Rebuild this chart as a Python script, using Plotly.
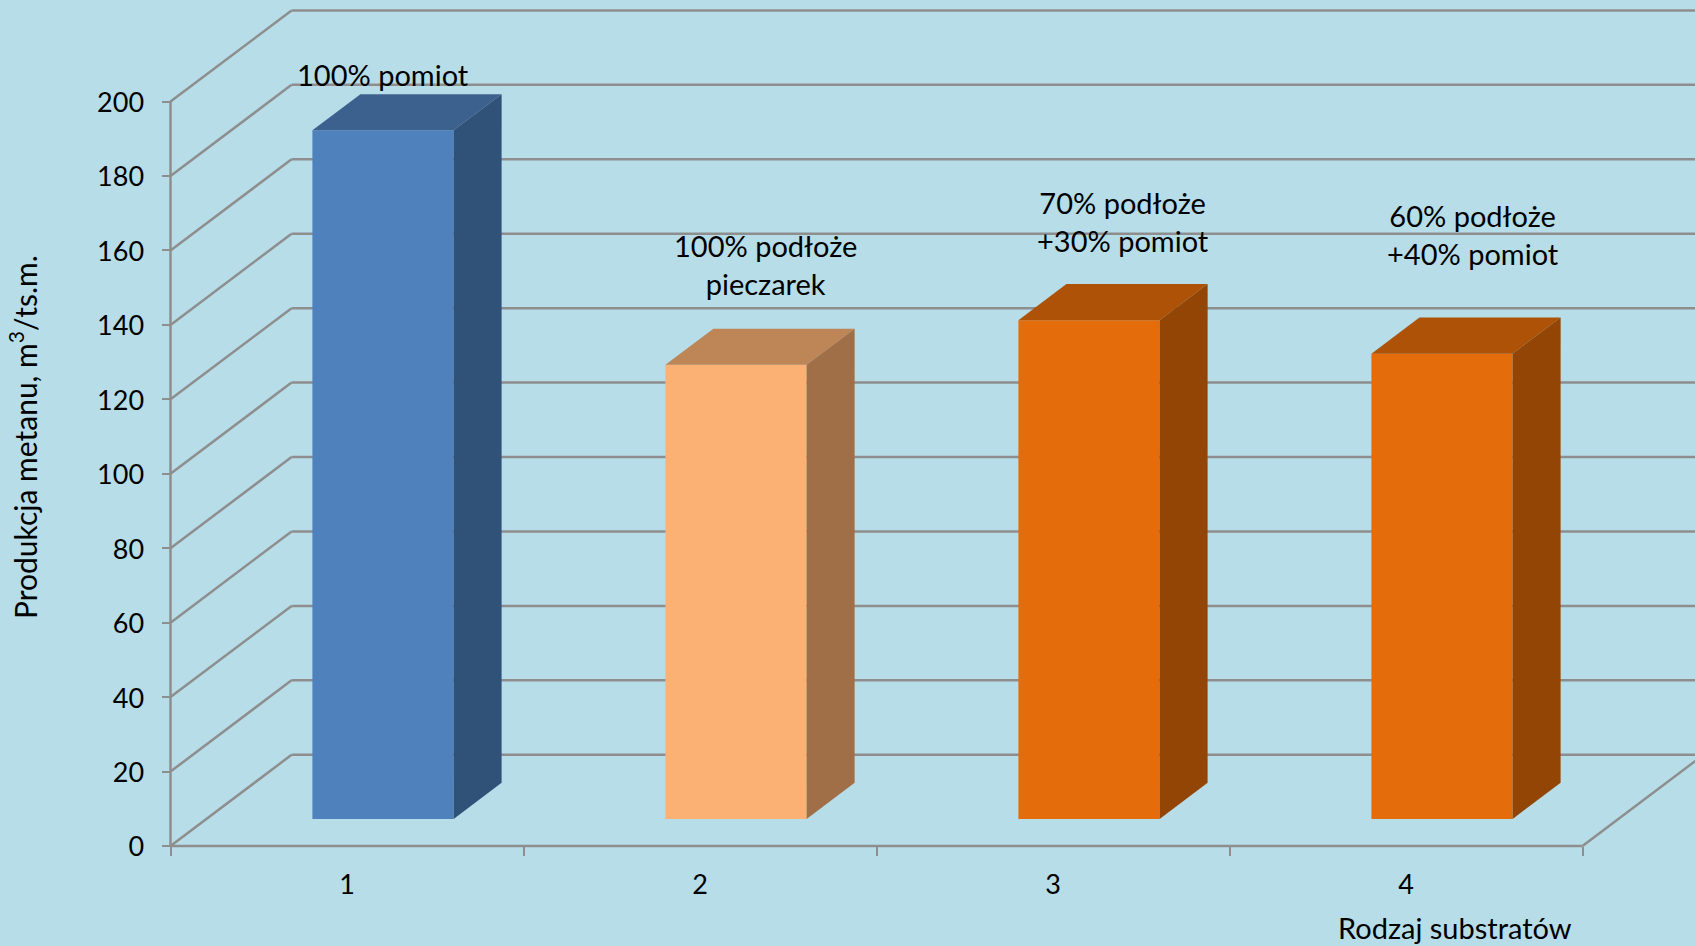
import plotly.graph_objects as go

# Chart data
categories = [1, 2, 3, 4]
methane_yield = [185, 122, 134, 125]
mix_labels = [
    "100% pomiot",
    "100% podłoże<br>pieczarek",
    "70% podłoże<br>+30% pomiot",
    "60% podłoże<br>+40% pomiot",
]
y_ticks = list(range(0, 201, 20))
x_boundaries = [0.5, 1.5, 2.5, 3.5, 4.5]

# Face colours: front, top, side
front_colors = ["#4F81BD", "#FBB174", "#E46C0A", "#E46C0A"]
top_colors = ["#3D618F", "#BE8557", "#AD5207", "#AD5207"]
side_colors = ["#305279", "#A06F47", "#934505", "#934505"]

BG = "#B7DDE8"
GRID = "#8E8E8E"
FONT = "Lato"
LABEL_SIZE = 29
TICK_SIZE = 27

WIDTH, HEIGHT = 1695, 946
AXIS_X_PX = 170.5
AXIS_Y_PX = 846
PX_PER_UNIT = 3.722

# Pseudo-3D projection, in axis units
WALL_DX, WALL_DY = 0.343, 24.5    # floor depth from front edge to back wall
GAP_DX, GAP_DY = 0.102, 7.27      # space between front edge and bars
BAR_DX, BAR_DY = 0.136, 9.7       # depth of each bar
BAR_WIDTH = 0.4

fig = go.Figure()

# Front faces
fig.add_trace(go.Bar(
    x=[c + GAP_DX for c in categories],
    y=methane_yield,
    base=GAP_DY,
    width=BAR_WIDTH,
    marker=dict(color=front_colors, line=dict(width=0)),
    hoverinfo="skip",
    showlegend=False,
))

# Top and side faces
for c, v, top, side in zip(categories, methane_yield, top_colors, side_colors):
    left = c + GAP_DX - BAR_WIDTH / 2
    right = left + BAR_WIDTH
    low = GAP_DY
    high = GAP_DY + v
    fig.add_trace(go.Scatter(
        x=[left, right, right + BAR_DX, left + BAR_DX, left],
        y=[high, high, high + BAR_DY, high + BAR_DY, high],
        mode="lines", fill="toself", fillcolor=top,
        line=dict(width=0), hoverinfo="skip", showlegend=False,
    ))
    fig.add_trace(go.Scatter(
        x=[right, right + BAR_DX, right + BAR_DX, right, right],
        y=[low, low + BAR_DY, high + BAR_DY, high, low],
        mode="lines", fill="toself", fillcolor=side,
        line=dict(width=0), hoverinfo="skip", showlegend=False,
    ))

# Wall gridlines and axis lines sit beneath the bars
line_style = dict(color=GRID, width=2.5)
shapes = []


def add_line(x0, y0, x1, y1):
    shapes.append(dict(type="line", xref="x", yref="y", x0=x0, y0=y0, x1=x1, y1=y1,
                       line=line_style, layer="below"))


for t in y_ticks:
    add_line(x_boundaries[0], t, x_boundaries[0] + WALL_DX, t + WALL_DY)
    add_line(x_boundaries[0] + WALL_DX, t + WALL_DY, x_boundaries[-1] + WALL_DX, t + WALL_DY)
add_line(x_boundaries[0], 0, x_boundaries[0], y_ticks[-1])
add_line(x_boundaries[0], 0, x_boundaries[-1], 0)
add_line(x_boundaries[-1], 0, x_boundaries[-1] + WALL_DX, WALL_DY)

# Text labels above the bars, with the axis captions
label_style = dict(family=FONT, size=LABEL_SIZE, color="#000000")
tick_style = dict(family=FONT, size=TICK_SIZE, color="#000000")
annotations = []
label_centres = [(383, 74), (765, 265), (1123, 221.5), (1473, 234.5)]
for text, (px, py) in zip(mix_labels, label_centres):
    annotations.append(dict(
        text=text, xref="paper", yref="paper", x=px / WIDTH, y=1 - py / HEIGHT,
        xanchor="center", yanchor="middle", showarrow=False, align="center",
        font=label_style,
    ))
annotations.append(dict(
    text="Rodzaj substratów", xref="paper", yref="paper",
    x=1455 / WIDTH, y=1 - 927 / HEIGHT,
    xanchor="center", yanchor="middle", showarrow=False, font=label_style,
))
annotations.append(dict(
    text="Produkcja metanu, m<sup>3</sup>/ts.m.", xref="paper", yref="paper",
    x=23 / WIDTH, y=1 - 437 / HEIGHT, textangle=-90,
    xanchor="center", yanchor="middle", showarrow=False,
    font=dict(family=FONT, size=30, color="#000000"),
))

fig.update_layout(
    width=WIDTH,
    height=HEIGHT,
    autosize=False,
    margin=dict(l=0, r=0, t=0, b=0),
    paper_bgcolor=BG,
    plot_bgcolor=BG,
    showlegend=False,
    font=tick_style,
    shapes=shapes,
    annotations=annotations,
    xaxis=dict(
        domain=[0, 1],
        range=[0.5 - AXIS_X_PX / 353, 0.5 + (WIDTH - AXIS_X_PX) / 353],
        anchor="free",
        position=1 - AXIS_Y_PX / HEIGHT,
        tickmode="array",
        tickvals=categories,
        ticktext=[str(c) for c in categories],
        ticks="",
        ticklabelstandoff=20,
        minor=dict(tickmode="array", tickvals=x_boundaries, ticks="outside",
                   ticklen=9, tickwidth=2, tickcolor=GRID),
        showgrid=False,
        zeroline=False,
        showline=False,
        tickfont=tick_style,
    ),
    yaxis=dict(
        domain=[0, 1],
        range=[(AXIS_Y_PX - HEIGHT) / PX_PER_UNIT, AXIS_Y_PX / PX_PER_UNIT],
        anchor="free",
        position=AXIS_X_PX / WIDTH,
        tickmode="array",
        tickvals=y_ticks,
        ticks="outside",
        ticklen=9,
        tickwidth=2,
        tickcolor=GRID,
        ticklabelstandoff=12,
        ticklabelshift=1,
        showgrid=False,
        zeroline=False,
        showline=False,
        tickfont=tick_style,
    ),
)

fig.write_html("out.html", config=dict(displayModeBar=False))
